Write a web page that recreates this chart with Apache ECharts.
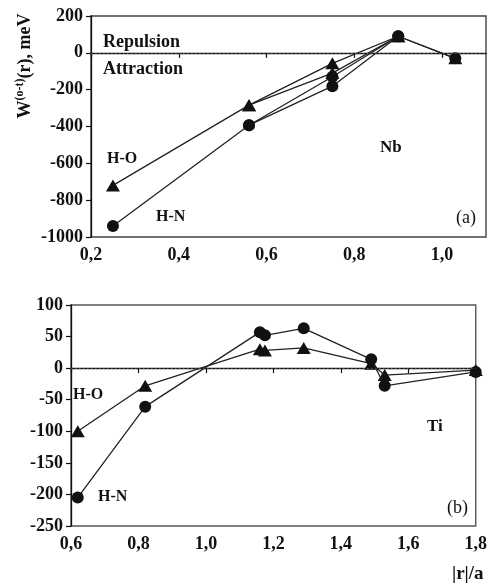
<!DOCTYPE html>
<html>
<head>
<meta charset="utf-8">
<script src="https://cdn.jsdelivr.net/npm/echarts@6/dist/echarts.min.js"></script>
<style>
  html, body { margin: 0; padding: 0; background: #fff; }
  #chart { width: 490px; height: 583px; }
</style>
</head>
<body>
<div id="chart"></div>
<script>
// (a) Nb
const nbX = [0.25, 0.56, 0.75, 0.9, 1.03]
const nbHO = [-720, -284, -57, 90, -30]
const nbHN = [-940, -393, -130, 90, -30]
// second branch through 0.75
const nbBranchX = [0.56, 0.75, 0.9]
const nbHOBranch = [-284, -110, 90]
const nbHNBranch = [-393, -181, 90]

// (b) Ti
const tiX = [0.62, 0.82, 1.16, 1.175, 1.29, 1.49, 1.53, 1.8]
const tiHO = [-100, -28, 30, 28, 32, 7, -11, -3]
const tiHN = [-205, -61, 57, 52, 63, 14, -28, -6]

const FONT = 'Liberation Serif'
const INK = '#111'

const pairs = (xs, ys) => xs.map((x, i) => [x, ys[i]])
const comma = v => v.toFixed(1).replace('.', ',')

const chart = echarts.init(document.getElementById('chart'))

const lineSeries = (name, data, symbol, size, grid, z) => ({
  name,
  type: 'line',
  xAxisIndex: grid,
  yAxisIndex: grid,
  data,
  symbol,
  symbolSize: size,
  z,
  itemStyle: { color: INK },
  lineStyle: { color: '#222', width: 1.3 },
  animation: false
})

const zeroLine = {
  silent: true,
  symbol: 'none',
  animation: false,
  label: { show: false },
  lineStyle: { type: [1.5, 2.5], color: '#555', width: 1 },
  emphasis: { disabled: true },
  data: [{ yAxis: 0 }]
}

const axisCommon = {
  axisLine: { lineStyle: { color: INK, width: 1.3 } },
  axisTick: { length: 5, lineStyle: { color: INK, width: 1.2 } },
  splitLine: { show: false },
  axisLabel: { color: INK, fontFamily: FONT, fontWeight: 'bold', fontSize: 18 }
}

const label = (text, x, y, size, bold) => ({
  type: 'text',
  x, y,
  style: {
    text,
    fill: INK,
    font: (bold ? 'bold ' : '') + size + 'px "' + FONT + '"',
    verticalAlign: 'middle'
  }
})

const option = {
  backgroundColor: '#fff',
  grid: [
    { left: 91, top: 16, right: 4, height: 221, show: true, borderColor: '#444', borderWidth: 1.4 },
    { left: 71, top: 305, right: 13, height: 221, show: true, borderColor: '#555', borderWidth: 1.4 }
  ],
  xAxis: [
    {
      ...axisCommon,
      type: 'value', gridIndex: 0, min: 0.2, max: 1.1, interval: 0.2,
      axisLabel: { ...axisCommon.axisLabel, margin: 9, showMaxLabel: false, formatter: comma }
    },
    {
      ...axisCommon,
      type: 'value', gridIndex: 1, min: 0.6, max: 1.8, interval: 0.2,
      axisLabel: { ...axisCommon.axisLabel, margin: 9, formatter: comma }
    }
  ],
  yAxis: [
    {
      ...axisCommon,
      type: 'value', gridIndex: 0, min: -1000, max: 200, interval: 200,
      axisLabel: { ...axisCommon.axisLabel, margin: 8, formatter: v => String(v) }
    },
    {
      ...axisCommon,
      type: 'value', gridIndex: 1, min: -250, max: 100, interval: 50,
      axisLabel: { ...axisCommon.axisLabel, margin: 8, formatter: v => String(v) }
    }
  ],
  series: [
    { ...lineSeries('H-O', pairs(nbX, nbHO), 'triangle', [14, 12], 0, 2), markLine: zeroLine },
    lineSeries('H-O', pairs(nbBranchX, nbHOBranch), 'triangle', [14, 12], 0, 2),
    lineSeries('H-N', pairs(nbX, nbHN), 'circle', 12, 0, 3),
    lineSeries('H-N', pairs(nbBranchX, nbHNBranch), 'circle', 12, 0, 3),
    { ...lineSeries('H-O', pairs(tiX, tiHO), 'triangle', [14, 12], 1, 2), markLine: zeroLine },
    lineSeries('H-N', pairs(tiX, tiHN), 'circle', 12, 1, 3)
  ],
  graphic: [
    {
      type: 'text',
      x: 25, y: 66,
      rotation: Math.PI / 2,
      style: {
        text: '{w|W}{s|(o-t)}{w|(r), meV}',
        align: 'center',
        verticalAlign: 'middle',
        rich: {
          w: { fontFamily: FONT, fontWeight: 'bold', fontSize: 18, lineHeight: 22, fill: INK },
          s: { fontFamily: FONT, fontWeight: 'bold', fontSize: 12, verticalAlign: 'top', fill: INK }
        }
      }
    },
    label('Repulsion', 103, 42, 18, true),
    label('Attraction', 103, 69, 18, true),
    label('H-O', 107, 159, 16, true),
    label('H-N', 156, 217, 16, true),
    label('Nb', 380, 148, 17, true),
    label('(a)', 456, 218, 18, false),
    label('H-O', 73, 395, 16, true),
    label('H-N', 98, 497, 16, true),
    label('Ti', 427, 427, 17, true),
    label('(b)', 447, 508, 18, false),
    label('|r|/a', 452, 574, 19, true)
  ]
}

chart.setOption(option)
</script>
</body>
</html>
